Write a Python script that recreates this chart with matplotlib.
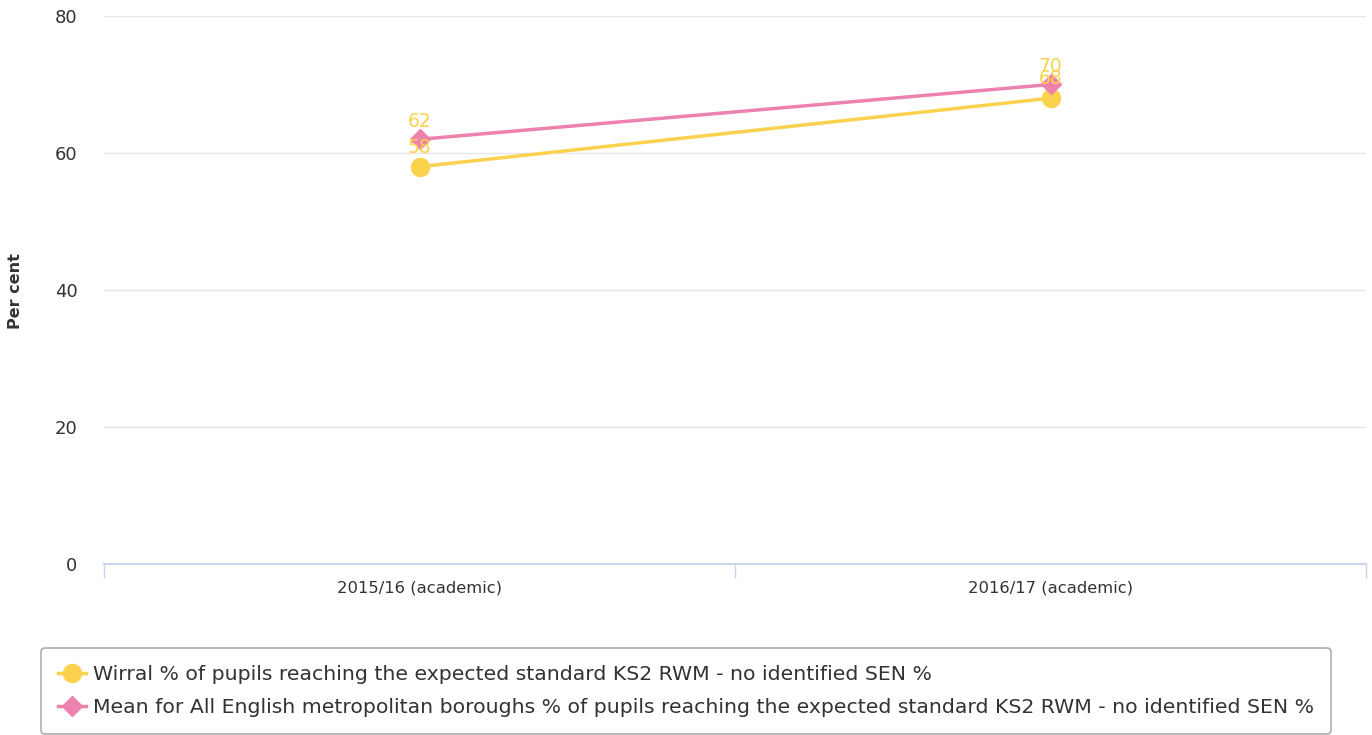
import numpy as np
import matplotlib.pyplot as plt

categories = ["2015/16 (academic)", "2016/17 (academic)"]
wirral = [58, 68]
mean_metro = [62, 70]
series_names = [
    "Wirral % of pupils reaching the expected standard KS2 RWM - no identified SEN %",
    "Mean for All English metropolitan boroughs % of pupils reaching the expected standard KS2 RWM - no identified SEN %",
]
yticks = [0, 20, 40, 60, 80]

yellow = "#FBD24E"
pink = "#EE82AE"
text_col = "#333333"

plt.rcParams['font.family'] = ['DejaVu Sans']
fig = plt.figure(figsize=(13.72, 7.35), dpi=100)
ax = fig.add_axes([104 / 1372, 1 - 564 / 735, 1262 / 1372, 548 / 735])

x = np.arange(len(categories))
ax.plot(x, wirral, color=yellow, lw=2.5, marker='o', ms=13, zorder=3,
        label=series_names[0])
ax.plot(x, mean_metro, color=pink, lw=2.5, marker='D', ms=10, zorder=4,
        label=series_names[1])

for xi, v in zip(x, wirral):
    ax.annotate(str(v), (xi, v), xytext=(0, 7), textcoords='offset points',
                ha='center', va='bottom', color=yellow, fontsize=13.5, zorder=5)
for xi, v in zip(x, mean_metro):
    ax.annotate(str(v), (xi, v), xytext=(0, 6), textcoords='offset points',
                ha='center', va='bottom', color=yellow, fontsize=13.5, zorder=5)

ax.set_xlim(-0.5, len(categories) - 0.5)
ax.set_ylim(0, 80)
ax.set_yticks(yticks)
ax.set_yticklabels([str(t) for t in yticks], fontsize=13, color=text_col)
ax.tick_params(axis='y', length=0, pad=19)
ax.grid(axis='y', color='#E6E6E6', lw=1)
ax.set_axisbelow(True)

# category boundaries as ticks, labels centered
ax.set_xticks(np.arange(-0.5, len(categories), 1.0))
ax.set_xticklabels([])
ax.set_xticks(x, minor=True)
ax.set_xticklabels(categories, minor=True, fontsize=11.8, color=text_col)
ax.tick_params(axis='x', which='major', length=10, color='#CCD6EB', width=1)
ax.tick_params(axis='x', which='minor', length=0, pad=12)

for s in ['top', 'right', 'left']:
    ax.spines[s].set_visible(False)
ax.spines['bottom'].set_color('#CCD6EB')
ax.spines['bottom'].set_linewidth(1.5)

fig.text(16 / 1372, 1 - 291 / 735, "Per cent", rotation=90, fontsize=11.5,
         fontweight='bold', color=text_col, ha='center', va='center')

leg = fig.legend(loc='lower left', bbox_to_anchor=(41 / 1372, 1 - 734 / 735),
                 fontsize=14.7, frameon=True, fancybox=True, edgecolor='#999999',
                 handlelength=1.35, handletextpad=0.35, labelcolor=text_col,
                 borderpad=0.85, labelspacing=0.65, borderaxespad=0)
leg.get_frame().set_linewidth(1.2)

fig.savefig("out.png", dpi=100)
